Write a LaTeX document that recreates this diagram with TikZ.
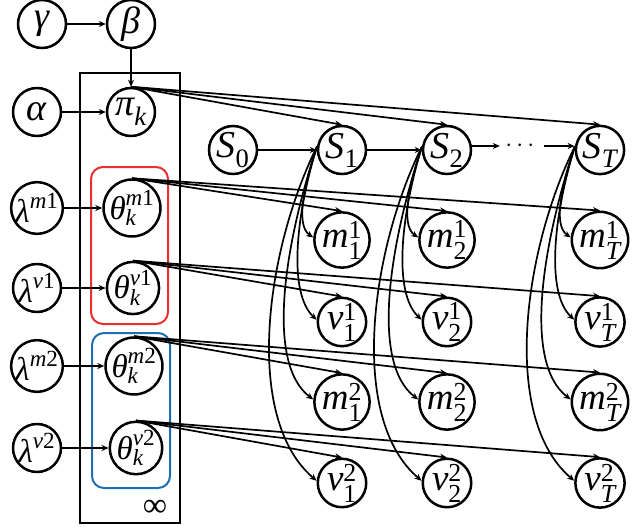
\documentclass[tikz,border=0pt]{standalone}
\usepackage{amsmath}
\usepackage{fontspec}
\setmainfont{Liberation Serif}
\newfontfamily\tms{Liberation Serif}
\usetikzlibrary{arrows.meta}
\definecolor{groupRed}{RGB}{232,48,48}
\definecolor{groupBlue}{RGB}{30,110,180}
% italic variable name and upright index inside math scripts
\newcommand\iv[1]{\text{\tms\itshape #1}}
\newcommand\up[1]{\text{\tms\upshape #1}}
\begin{document}
\begin{tikzpicture}[x=1pt,y=-1pt,
  var/.style={circle,draw,line width=2.5pt,minimum size=48pt,inner sep=0pt},
  big/.style={font=\tms\fontsize{38}{40}\selectfont},
  hyp/.style={font=\tms\fontsize{33}{35}\selectfont},
  obs/.style={font=\tms\fontsize{37}{39}\selectfont},
  edge/.style={line width=1.7pt,-{Stealth[length=7pt,width=6pt]}},
  plate/.style={draw,line width=2.5pt,inner sep=0pt},
  group/.style={draw,line width=2pt,rounded corners=12pt,inner sep=0pt}]
\useasboundingbox (0,0) rectangle (638,527);

% plate over the mixture components and the two parameter groups
\node[plate,minimum width=100pt,minimum height=450pt] (plate) at (130,298) {};
\node[group,groupRed,minimum width=77pt,minimum height=157pt] (grp1) at (129.5,245.5) {};
\node[group,groupBlue,minimum width=78pt,minimum height=155pt] (grp2) at (131,410.5) {};
\node[font=\tms\fontsize{34}{36}\selectfont,inner sep=0pt] (inf) at (155,508) {∞};

% hyperparameters and component parameters
\node[var,big] (gamma) at (42,24) {\textit{γ}};
\node[var,big] (beta) at (131,24) {\textit{β}};
\node[var,big] (alpha) at (37,112) {\textit{α}};
\node[var,big] (pi) at (131,112) {$\iv{π}_{\iv{k}}$};

\node[var,hyp] (lm1) at (37,208) {$\iv{λ}^{\iv{m}\up{1}}$};
\node[var,hyp] (lv1) at (37,288) {$\iv{λ}^{\iv{v}\up{1}}$};
\node[var,hyp] (lm2) at (37,366) {$\iv{λ}^{\iv{m}\up{2}}$};
\node[var,hyp] (lv2) at (37,448) {$\iv{λ}^{\iv{v}\up{2}}$};

\node[var,hyp] (tm1) at (132,208) {$\iv{θ}^{\iv{m}\up{1}}_{\iv{k}}$};
\node[var,hyp] (tv1) at (133,288) {$\iv{θ}^{\iv{v}\up{1}}_{\iv{k}}$};
\node[var,hyp] (tm2) at (134,366) {$\iv{θ}^{\iv{m}\up{2}}_{\iv{k}}$};
\node[var,hyp] (tv2) at (136,448) {$\iv{θ}^{\iv{v}\up{2}}_{\iv{k}}$};

\draw[edge] (gamma) -- (beta);
\draw[edge] (beta) -- (pi);
\draw[edge] (alpha) -- (pi);
\draw[edge] (lm1) -- (tm1);
\draw[edge] (lv1) -- (tv1);
\draw[edge] (lm2) -- (tm2);
\draw[edge] (lv2) -- (tv2);

% state chain
\node[var,big] (S0) at (233,150) {$\iv{S}_{\up{0}}$};
\node[inner sep=0pt,minimum width=44pt,font=\fontsize{30}{32}\selectfont] (dots) at (522,146) {$\cdots$};

\foreach \c/\x/\lab in {1/342/\up{1}, 2/447/\up{2}, T/600/\iv{T}} {
  \node[var,big] (S\c) at (\x,150) {$\iv{S}_{\lab}$};
  \node[var,obs] (m1\c) at (\x,240) {$\iv{m}^{\up{1}}_{\lab}$};
  \node[var,obs] (v1\c) at (\x,322) {$\iv{v}^{\up{1}}_{\lab}$};
  \node[var,obs] (m2\c) at (\x,402) {$\iv{m}^{\up{2}}_{\lab}$};
  \node[var,obs] (v2\c) at (\x,483) {$\iv{v}^{\up{2}}_{\lab}$};
  % emissions from the state
  \draw[edge] (S\c.172) .. controls +(-11,33) and +(-19,-13) .. (m1\c.175);
  \draw[edge] (S\c.172) .. controls +(-21,68) and +(-29,-27) .. (v1\c.175);
  \draw[edge] (S\c.172) .. controls +(-31,93) and +(-49,-37) .. (m2\c.175);
  \draw[edge] (S\c.172) .. controls +(-51,103) and +(-74,-63) .. (v2\c.175);
  % component parameters to every time step
  \draw[edge] (pi.north) -- (S\c.north);
  \draw[edge] (tm1.north) -- (m1\c.north);
  \draw[edge] (tv1.north) -- (v1\c.north);
  \draw[edge] (tm2.north) -- (m2\c.north);
  \draw[edge] (tv2.north) -- (v2\c.north);
}

\draw[edge] (S0) -- (S1);
\draw[edge] (S1) -- (S2);
\draw[edge] (S2.east |- dots) -- (dots.west);
\draw[edge] (dots.east) -- (ST.west |- dots);
\end{tikzpicture}
\end{document}
